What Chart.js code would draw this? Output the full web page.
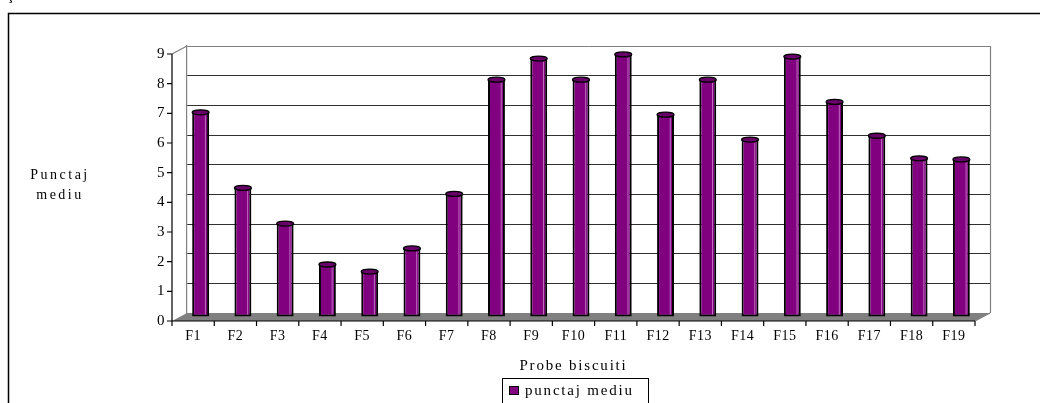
<!DOCTYPE html>
<html>
<head>
<meta charset="utf-8">
<script src="https://cdn.jsdelivr.net/npm/chart.js@4.4.1/dist/chart.umd.min.js"></script>
<style>
  html, body { margin: 0; padding: 0; background: #fff; }
</style>
</head>
<body>
<canvas id="grafic" width="1040" height="403"></canvas>
<script>
const probe = ['F1', 'F2', 'F3', 'F4', 'F5', 'F6', 'F7', 'F8', 'F9', 'F10',
               'F11', 'F12', 'F13', 'F14', 'F15', 'F16', 'F17', 'F18', 'F19'];
const punctajMediu = [6.9, 4.35, 3.15, 1.77, 1.53, 2.31, 4.15, 8.0, 8.71, 8.0,
                      8.85, 6.82, 8.0, 5.98, 8.78, 7.25, 6.11, 5.35, 5.31];
const valoriY = [0, 1, 2, 3, 4, 5, 6, 7, 8, 9];
const titluY = ['Punctaj', 'mediu'];
const titluX = 'Probe biscuiti';
const numeSerie = 'punctaj mediu';

const FONT = '"Liberation Serif", "Times New Roman", serif';
// adancimea (perete spate fata de axele din fata)
const DX = 15, DY = 8;

const cadru3d = {
  id: 'cadru3d',
  beforeDraw(chart) {
    const c = chart.ctx;
    c.save();
    c.fillStyle = '#fff';
    c.fillRect(0, 0, chart.width, chart.height);
    // chenar exterior
    c.strokeStyle = '#000';
    c.lineWidth = 1.5;
    c.beginPath();
    c.moveTo(8.5, chart.height + 2);
    c.lineTo(8.5, 13.5);
    c.lineTo(chart.width + 2, 13.5);
    c.stroke();
    c.fillStyle = '#000';
    c.font = 'bold 14px ' + FONT;
    c.textBaseline = 'alphabetic';
    c.fillText('ş Grafic nr.', 8, 0);
    c.restore();
    chart.ctx.letterSpacing = '0.5px';
  },
  beforeDatasetsDraw(chart) {
    const c = chart.ctx;
    const {left, right, top, bottom} = chart.chartArea;
    const y = chart.scales.y;
    c.save();
    // podeaua
    c.fillStyle = '#808080';
    c.beginPath();
    c.moveTo(left - DX, bottom + DY);
    c.lineTo(right - DX, bottom + DY);
    c.lineTo(right, bottom);
    c.lineTo(left, bottom);
    c.closePath();
    c.fill();
    // marginea dreapta a peretelui si diagonalele
    c.strokeStyle = '#808080';
    c.lineWidth = 1.2;
    c.beginPath();
    c.moveTo(right + 0.5, top);
    c.lineTo(right + 0.5, bottom);
    c.moveTo(left - DX, top + DY);
    c.lineTo(left, top);
    c.moveTo(right - DX, bottom + DY);
    c.lineTo(right, bottom);
    c.stroke();
    // axa Y din fata
    c.strokeStyle = '#000';
    c.lineWidth = 1.2;
    c.beginPath();
    c.moveTo(left - DX, top + DY);
    c.lineTo(left - DX, bottom + DY);
    valoriY.forEach(v => {
      const py = y.getPixelForValue(v) + DY;
      c.moveTo(left - DX - 5, py);
      c.lineTo(left - DX, py);
    });
    // axa X din fata
    c.moveTo(left - DX, bottom + DY);
    c.lineTo(right - DX, bottom + DY);
    const pas = (right - left) / probe.length;
    for (let i = 0; i <= probe.length; i++) {
      const px = left + i * pas - DX;
      c.moveTo(px, bottom + DY);
      c.lineTo(px, bottom + DY + 5);
    }
    c.stroke();
    c.restore();
    // coloanele stau la jumatatea adancimii
    c.save();
    c.translate(-DX / 2, DY / 2);
  },
  afterDatasetsDraw(chart) {
    const c = chart.ctx;
    chart.getDatasetMeta(0).data.forEach(bar => {
      const w = bar.width;
      c.strokeStyle = 'rgba(200,120,200,0.9)';
      c.lineWidth = 1;
      c.beginPath();
      c.moveTo(bar.x + w * 0.28, bar.y + 3);
      c.lineTo(bar.x + w * 0.28, bar.base - 2);
      c.stroke();
      c.fillStyle = '#6a006a';
      c.strokeStyle = '#000';
      c.lineWidth = 1.3;
      c.beginPath();
      c.ellipse(bar.x, bar.y, w / 2, 2.5, 0, 0, Math.PI * 2);
      c.fill();
      c.stroke();
    });
    c.restore();
  },
  afterDraw(chart) {
    const c = chart.ctx;
    const {left, right} = chart.chartArea;
    c.save();
    c.fillStyle = '#000';
    c.font = '14px ' + FONT;
    c.textAlign = 'center';
    c.textBaseline = 'middle';
    c.letterSpacing = '2.5px';
    c.fillText(titluY[0], 60, 175);
    c.fillText(titluY[1], 60, 195);
    const cx = (left + right) / 2 - DX;
    c.letterSpacing = '1.8px';
    c.font = '15px ' + FONT;
    c.fillText(titluX, cx, 366);
    // legenda
    const ds = chart.data.datasets[0];
    c.strokeStyle = '#000';
    c.lineWidth = 1;
    c.strokeRect(502.5, 378.5, 146, 40);
    c.fillStyle = ds.backgroundColor;
    c.fillRect(509, 386, 10, 9);
    c.strokeRect(509.5, 386.5, 9, 8);
    c.fillStyle = '#000';
    c.textAlign = 'left';
    c.font = '15px ' + FONT;
    c.letterSpacing = '1.8px';
    c.fillText(ds.label, 525, 391);
    c.restore();
    chart.ctx.letterSpacing = '0px';
  }
};

new Chart(document.getElementById('grafic').getContext('2d'), {
  type: 'bar',
  data: {
    labels: probe,
    datasets: [{
      label: numeSerie,
      data: punctajMediu,
      backgroundColor: '#800080',
      borderColor: '#000',
      borderWidth: 2,
      borderSkipped: false,
      categoryPercentage: 1,
      barPercentage: 0.4
    }]
  },
  options: {
    responsive: false,
    animation: false,
    devicePixelRatio: 1,
    layout: { padding: { top: 46, right: 50, left: 0, bottom: 0 } },
    plugins: { legend: { display: false }, tooltip: { enabled: false } },
    scales: {
      x: {
        grid: { display: false, drawTicks: false },
        border: { display: false },
        ticks: {
          color: '#000', font: { family: FONT, size: 14 },
          padding: 15, labelOffset: -DX, autoSkip: false, maxRotation: 0
        },
        afterFit: s => { s.height = 90; }
      },
      y: {
        min: 0, max: 9,
        grid: {
          drawTicks: false, lineWidth: 1,
          color: ctx => ctx.tick && ctx.tick.value === 9 ? '#808080' : '#303030'
        },
        border: { color: '#808080', width: 1.2 },
        ticks: {
          stepSize: 1, color: '#000', font: { family: FONT, size: 15 },
          padding: 22, labelOffset: DY,
          callback: v => valoriY.includes(v) ? String(v) : ''
        },
        afterFit: s => { s.width = 187; }
      }
    }
  },
  plugins: [cadru3d]
});
</script>
</body>
</html>
